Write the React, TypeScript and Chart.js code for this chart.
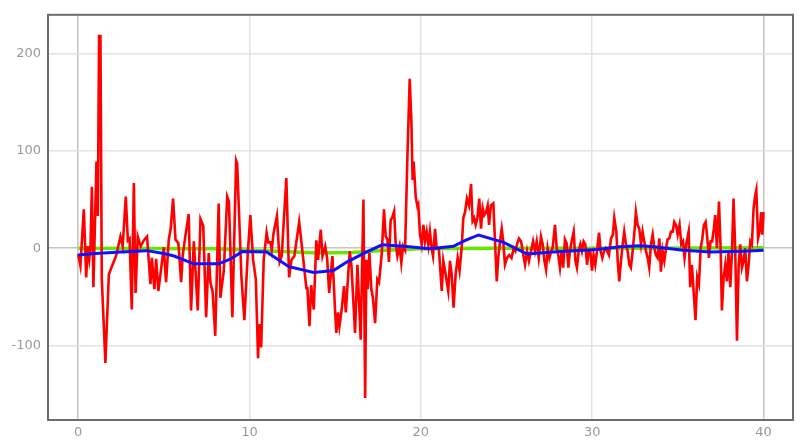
import React, { useEffect, useRef } from "react";
import { Chart, registerables } from "chart.js";

Chart.register(...registerables);

const xTicks = [0, 10, 20, 30, 40];
const yTicks = [-100, 0, 100, 200];

const redPoints: [number, number][] = [
  [0, -6], [0.13, -18], [0.33, 40], [0.47, -30], [0.56, 2], [0.65, -11], [0.72, 1], [0.8, 63], [0.89, -40],
  [1.07, 89], [1.15, 33], [1.22, 218], [1.3, 218], [1.38, -32], [1.59, -118], [1.79, -27], [1.96, -19],
  [2.21, -8], [2.47, 12], [2.6, 2], [2.78, 53], [2.9, 8], [3.0, 10], [3.13, -63], [3.25, 67], [3.35, -46],
  [3.48, 12], [3.65, 2], [3.83, 8], [4.02, 12], [4.22, -37], [4.3, -10], [4.45, -42], [4.55, -11], [4.68, -44],
  [5.0, 1], [5.13, -35], [5.29, 9], [5.4, 20], [5.54, 51], [5.68, 9], [5.85, 5], [6.01, -35], [6.1, -8],
  [6.26, 13], [6.45, 35], [6.59, -64], [6.75, 7], [6.98, -64], [7.14, 30], [7.3, 23], [7.47, -71], [7.62, -5],
  [7.72, -35], [7.85, -45], [8.0, -90], [8.2, 46], [8.3, -51], [8.5, -23], [8.7, 53], [8.8, 48], [9.0, -71],
  [9.22, 90], [9.28, 87], [9.53, -30], [9.7, -74], [9.9, -5], [10.05, 34],
  [10.21, -12], [10.37, -32], [10.5, -113], [10.56, -78], [10.68, -102], [10.83, -12], [11.0, 16], [11.1, 6],
  [11.22, 6], [11.3, -2], [11.4, 15], [11.6, 33], [11.76, -14], [11.88, -8], [12.15, 72], [12.31, -30],
  [12.45, -12], [12.62, -8], [12.9, 27], [13.1, -5], [13.32, -41], [13.38, -41], [13.5, -80], [13.6, -38],
  [13.75, -63], [13.9, 8], [14.0, -12], [14.16, 19], [14.26, -8], [14.42, 2], [14.53, -10], [14.65, -46],
  [14.84, -8], [15.0, -66], [15.07, -87], [15.17, -66], [15.25, -80], [15.38, -63], [15.52, -39], [15.62, -66],
  [15.85, -3], [15.95, -18], [16.16, -87], [16.3, -17], [16.49, -94], [16.65, 50], [16.75, -154], [16.82, -12],
  [16.9, -42], [17.0, -5], [17.11, -42], [17.21, -52], [17.33, -77], [17.46, -32], [17.56, -35], [17.72, -5],
  [17.85, 40], [17.95, 12], [18.05, 9], [18.14, -14], [18.24, 29], [18.34, 32], [18.44, 38], [18.53, 5],
  [18.63, -8], [18.76, 2], [18.86, -15], [18.96, 2], [19.08, -2], [19.21, 90], [19.35, 174], [19.45, 129],
  [19.52, 70], [19.58, 89], [19.7, 53], [19.8, 43], [19.85, 45], [19.95, 14], [20.05, 4], [20.15, 24],
  [20.24, 7], [20.34, 17], [20.44, 3], [20.53, 17], [20.63, 0], [20.71, -8], [20.83, 20], [20.92, 0],
  [21.05, 0], [21.22, -44], [21.31, -13], [21.41, -23], [21.51, -34], [21.6, -44], [21.7, -13], [21.8, -27],
  [21.91, -61], [22.03, -27], [22.15, -10], [22.26, -23], [22.38, 0], [22.48, 31], [22.58, 37], [22.69, 51],
  [22.81, 44], [22.93, 66], [23.02, 28], [23.11, 31], [23.2, 24], [23.3, 31], [23.41, 51], [23.51, 20],
  [23.61, 41], [23.7, 34], [23.8, 37], [23.9, 44], [23.98, 24], [24.09, 44], [24.23, 46], [24.33, 7],
  [24.43, -34], [24.52, -10], [24.62, 7], [24.72, 20], [24.81, 7], [24.91, -17], [25.03, -10], [25.16, -7],
  [25.29, -10], [25.42, 0], [25.52, -3], [25.61, 4], [25.73, 10], [25.85, 7], [25.96, -5], [26.08, -17],
  [26.2, -3], [26.31, -13], [26.43, -3], [26.55, 7], [26.66, -3], [26.76, 7], [26.88, -10], [27.01, 12],
  [27.11, 4], [27.21, -13], [27.31, -22], [27.4, 0], [27.5, -10], [27.6, -3], [27.69, 0], [27.83, 24],
  [27.93, 0], [28.02, -7], [28.12, -20], [28.22, -3], [28.31, -20], [28.41, 9], [28.51, 5], [28.61, -20],
  [28.7, -3], [28.8, 7], [28.92, 17], [29.02, -13], [29.11, -20], [29.21, -3], [29.31, 4], [29.4, -3],
  [29.5, 7], [29.6, 4], [29.7, -17], [29.79, -3], [29.89, -3], [29.99, -23], [30.08, -7], [30.18, -17],
  [30.28, -3], [30.4, 16], [30.49, -3], [30.59, -10], [30.69, -3], [30.79, 0], [30.88, -3], [30.98, -7],
  [31.1, 10], [31.21, 14], [31.29, 31], [31.41, 17], [31.49, -13], [31.58, -34], [31.68, -13], [31.78, 4],
  [31.87, 17], [31.97, 4], [32.07, -3], [32.17, -17], [32.26, -20], [32.38, 0], [32.48, 20], [32.55, 37],
  [32.65, 24], [32.75, 20], [32.85, 4], [32.94, 17], [33.04, 7], [33.14, -3], [33.24, -10], [33.33, -20],
  [33.43, 4], [33.53, 14], [33.63, 0], [33.72, -7], [33.82, -10], [33.92, 10], [34.01, -24], [34.11, -3],
  [34.21, -13], [34.31, 0], [34.4, 9], [34.5, 10], [34.6, 17], [34.7, 17], [34.79, 27], [34.89, 24],
  [34.99, 14], [35.1, 24], [35.2, 4], [35.3, 7], [35.39, -10], [35.49, 4], [35.63, 17], [35.72, -40],
  [35.82, -17], [35.92, -44], [36.03, -74], [36.13, -30], [36.23, -37], [36.33, 0], [36.42, 9], [36.52, 24],
  [36.62, 27], [36.72, 10], [36.81, -10], [36.91, 7], [37.0, 7], [37.1, 20], [37.18, 34], [37.28, 0],
  [37.4, 48], [37.5, -3], [37.57, -64], [37.67, -30], [37.77, -17], [37.86, -34], [37.96, -3], [38.06, -40],
  [38.16, -3], [38.25, 51], [38.35, -3], [38.45, -95], [38.55, -17], [38.64, 4], [38.74, -20], [38.84, -13],
  [38.93, 0], [39.03, -34], [39.13, -17], [39.23, 7], [39.32, 4], [39.42, 41], [39.52, 55], [39.58, 60],
  [39.68, 10], [39.77, 17], [39.87, 37], [39.93, 14], [40.0, 37],
];

const bluePoints: [number, number][] = [
  [0, -7], [1, -5.5], [2.5, -4], [4, -2.5], [5, -5.5], [5.6, -8], [6.75, -16], [8.2, -16], [8.9, -11],
  [9.57, -3.5], [11.0, -4], [12.3, -19], [13.75, -25], [14.9, -23], [15.7, -14], [16.7, -5], [17.73, 3.5],
  [19.0, 2], [20.55, -0.5], [21.9, 2], [22.6, 8], [23.37, 13.6], [24.83, 6], [26.2, -6], [27.7, -4],
  [30.28, -1.4], [31.6, 1.5], [32.8, 2.4], [33.6, 1.4], [35.3, -2], [36.9, -4], [38.8, -3], [40, -2],
];

const greenPoints: [number, number][] = [
  [0, 0], [8, -0.5], [10, -2], [12, -3.5], [14, -5], [16, -4.5], [18, -2], [20, -0.5], [24, 0], [32, 0], [40, 0.5],
];

const toXY = (pts: [number, number][]) => pts.map(([x, y]) => ({ x, y }));

const framePlugin = {
  id: "frame",
  afterDraw(chart: any) {
    const { ctx, chartArea } = chart;
    ctx.save();
    ctx.strokeStyle = "#6b6b6b";
    ctx.lineWidth = 2;
    ctx.strokeRect(chartArea.left, chartArea.top, chartArea.right - chartArea.left, chartArea.bottom - chartArea.top);
    ctx.restore();
  },
};

export default function App() {
  const ref = useRef<HTMLCanvasElement | null>(null);
  useEffect(() => {
    if (!ref.current) return;
    const chart = new Chart(ref.current, {
      type: "line",
      data: {
        datasets: [
          {
            data: toXY(bluePoints),
            borderColor: "#1010ff",
            borderWidth: 3,
            pointRadius: 0,
            tension: 0,
            order: 0,
          },
          {
            data: toXY(redPoints),
            borderColor: "#ff0000",
            borderWidth: 2.6,
            pointRadius: 0,
            tension: 0,
            order: 1,
          },
          {
            data: toXY(greenPoints),
            borderColor: "#66e600",
            borderWidth: 3.5,
            pointRadius: 0,
            tension: 0,
            order: 2,
          },
        ],
      },
      options: {
        responsive: false,
        animation: false,
        layout: { padding: { top: 12, right: 15, left: 0, bottom: 0 } },
        plugins: { legend: { display: false }, tooltip: { enabled: false } },
        scales: {
          x: {
            type: "linear",
            min: -1.76,
            max: 41.72,
            afterBuildTicks: (scale: any) => {
              scale.ticks = xTicks.map((v) => ({ value: v }));
            },
            afterFit: (scale: any) => {
              scale.height = 26;
            },
            ticks: {
              color: "#999",
              font: { family: "DejaVu Sans", size: 13 },
              padding: 5,
              maxRotation: 0,
              callback: (v: any) => String(v),
            },
            grid: {
              drawTicks: false,
              color: (c: any) => (c.tick && (c.tick.value === 0 || c.tick.value === 40) ? "#c4c4c4" : "#e2e2e2"),
              lineWidth: 1.5,
            },
            border: { display: false },
          },
          y: {
            type: "linear",
            min: -176.5,
            max: 239.8,
            afterBuildTicks: (scale: any) => {
              scale.ticks = yTicks.map((v) => ({ value: v }));
            },
            afterFit: (scale: any) => {
              scale.width = 48;
            },
            ticks: {
              color: "#999",
              font: { family: "DejaVu Sans", size: 13 },
              padding: 7,
              callback: (v: any) => String(v),
            },
            grid: {
              drawTicks: false,
              color: (c: any) => (c.tick && c.tick.value === 0 ? "#c4c4c4" : "#e2e2e2"),
              lineWidth: 1.5,
            },
            border: { display: false },
          },
        },
      },
      plugins: [framePlugin],
    });
    return () => chart.destroy();
  }, []);
  return (
    <div style={{ position: "fixed", left: 0, top: 0, width: 808, height: 446, background: "#fff" }}>
      <canvas ref={ref} width={808} height={446} style={{ width: 808, height: 446, display: "block" }} />
    </div>
  );
}
